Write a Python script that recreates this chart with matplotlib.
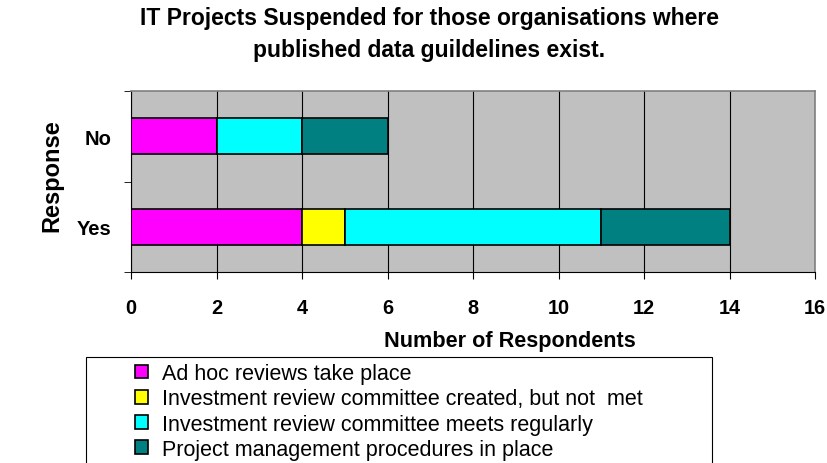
import matplotlib.pyplot as plt
from matplotlib.patches import Rectangle

plt.rcParams['font.family'] = ['Liberation Sans', 'DejaVu Sans']

responses = ['Yes', 'No']
series_names = ['Ad hoc reviews take place',
                'Investment review committee created, but not  met',
                'Investment review committee meets regularly',
                'Project management procedures in place']
ad_hoc = [4, 2]
created_not_met = [1, 0]
meets_regularly = [6, 2]
project_mgmt = [3, 2]
colors = ['#FF00FF', '#FFFF00', '#00FFFF', '#008080']
x_ticks = [0, 2, 4, 6, 8, 10, 12, 14, 16]

W, H = 827, 464
fig = plt.figure(figsize=(W / 100, H / 100), dpi=100)
ax = fig.add_axes([131 / W, 1 - 273 / H, (815 - 131) / W, (273 - 92) / H])
ax.set_facecolor('#C0C0C0')

ypos = [0, 1]
left = [0, 0]
handles = []
for vals, col, name in zip([ad_hoc, created_not_met, meets_regularly, project_mgmt], colors, series_names):
    b = ax.barh(ypos, vals, left=left, height=0.4, color=col, edgecolor='black',
                linewidth=1.2, label=name, zorder=3)
    handles.append(b)
    left = [l + v for l, v in zip(left, vals)]

ax.set_xlim(0, 16)
ax.set_ylim(-0.5, 1.5)
ax.set_xticks(x_ticks)
ax.set_xticklabels([str(t) for t in x_ticks], fontsize=14.3, fontweight='bold')
ax.set_yticks(ypos)
ax.set_yticklabels(responses, fontsize=14.5, fontweight='bold')
ax.tick_params(axis='y', length=0, pad=14)
ax.set_yticks([-0.5, 0.5, 1.5], minor=True)
ax.tick_params(axis='y', which='minor', length=5, color='black')
ax.tick_params(axis='x', length=5, pad=14)
ax.grid(axis='x', color='black', linewidth=0.8, zorder=0)
ax.set_axisbelow(True)
for s in ['top', 'right']:
    ax.spines[s].set_color('#808080')
    ax.spines[s].set_linewidth(1.2)
for s in ['left', 'bottom']:
    ax.spines[s].set_color('black')

fig.text(510 / W, 1 - 342 / H, 'Number of Respondents', ha='center', va='center',
         fontsize=15.6, fontweight='bold')
fig.text(52 / W, 1 - 176 / H, 'Response', ha='center', va='center', rotation=90,
         fontsize=17, fontweight='bold')

fig.text(429 / W, 1 - 19 / H, 'IT Projects Suspended for those organisations where',
         ha='center', va='center', fontsize=16.5, fontweight='bold')
fig.text(429 / W, 1 - 51 / H, 'published data guildelines exist.',
         ha='center', va='center', fontsize=16.5, fontweight='bold')

# legend box
fig.patches.append(Rectangle((86 / W, -0.05), (712 - 86) / W, 0.05 + 1 - 358 / H,
                             transform=fig.transFigure, facecolor='white',
                             edgecolor='black', linewidth=0.8))
fig.legend(handles=handles, loc='upper left', bbox_to_anchor=(135 / W, 1 - 364 / H),
           frameon=False, fontsize=15.5, handlelength=0.6, handleheight=0.6,
           handletextpad=0.65, labelspacing=0.2, borderpad=0, borderaxespad=0)

fig.savefig('out.png', dpi=100)
